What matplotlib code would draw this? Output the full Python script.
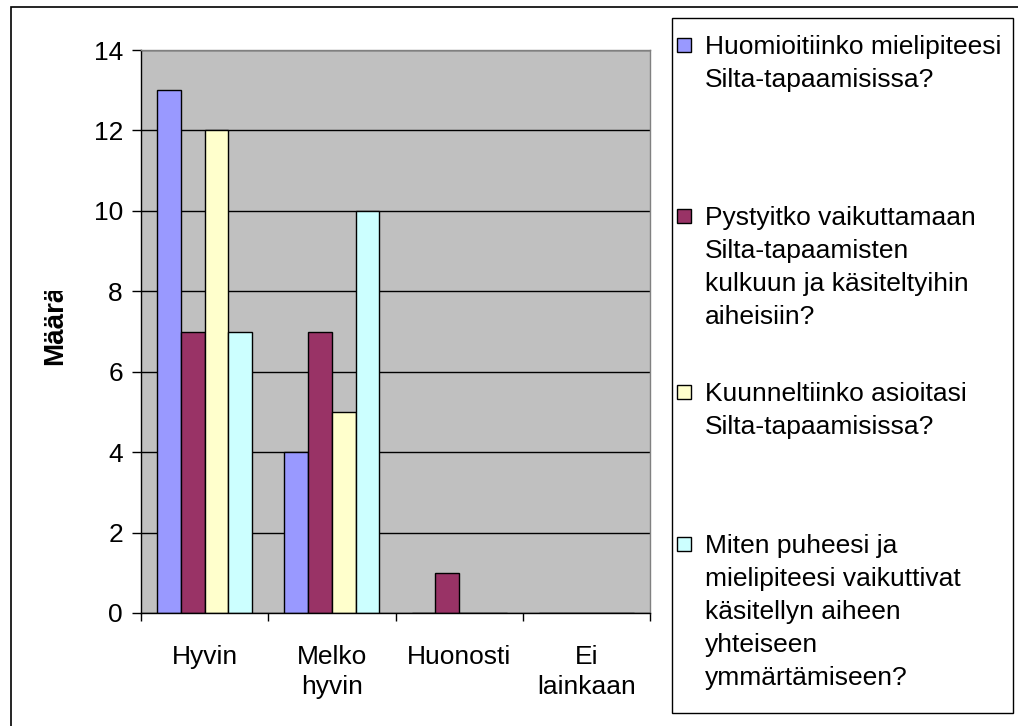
import matplotlib
matplotlib.use("Agg")
import matplotlib.pyplot as plt
from matplotlib.patches import Rectangle
from matplotlib.transforms import Bbox
import numpy as np

categories = ["Hyvin", "Melko\nhyvin", "Huonosti", "Ei\nlainkaan"]
series_labels = [
    "Huomioitiinko mielipiteesi\nSilta-tapaamisissa?",
    "Pystyitko vaikuttamaan\nSilta-tapaamisten\nkulkuun ja käsiteltyihin\naiheisiin?",
    "Kuunneltiinko asioitasi\nSilta-tapaamisissa?",
    "Miten puheesi ja\nmielipiteesi vaikuttivat\nkäsitellyn aiheen\nyhteiseen\nymmärtämiseen?",
]
s1 = [13, 4, 0, 0]
s2 = [7, 7, 1, 0]
s3 = [12, 5, 0, 0]
s4 = [7, 10, 0, 0]
series_values = [s1, s2, s3, s4]
colors = ["#9999FF", "#993366", "#FFFFCC", "#CCFFFF"]
yticks = [0, 2, 4, 6, 8, 10, 12, 14]
ylabel = "Määrä"

plt.rcParams['font.family'] = ['Liberation Sans', 'DejaVu Sans']
FS = 19
W, H = 1018, 726
fig = plt.figure(figsize=(W / 100, H / 100), dpi=100)
fig.patch.set_facecolor("white")

def fx(px):
    return px / W

def fy(py):
    return 1 - py / H

# outer frame
fig.patches.append(Rectangle((fx(11), -0.2), 1.5, fy(7) + 0.2, transform=fig.transFigure,
                             fill=False, edgecolor="black", linewidth=1.2))

ax = fig.add_axes([fx(141), fy(613), (650 - 141) / W, (613 - 50) / H])
ax.set_facecolor("#C0C0C0")
ax.set_axisbelow(True)

x = np.arange(len(categories))
w = 0.187
for i, vals in enumerate(series_values):
    ax.bar(x + (i - 1.5) * w, vals, width=w, color=colors[i], edgecolor="black",
           linewidth=1.0, zorder=2)

ax.set_xlim(-0.5, len(categories) - 0.5)
ax.set_ylim(0, 14)
ax.set_yticks(yticks)
ax.set_yticklabels([str(t) for t in yticks], fontsize=FS)
ax.yaxis.grid(True, color="black", linewidth=1.0)
ax.tick_params(axis="y", direction="out", length=6.5, width=1, pad=6.5, color="black")

ax.set_xticks(x)
ax.set_xticklabels(categories, fontsize=FS, linespacing=1.3, va="top")
ax.tick_params(axis="x", which="major", length=0, pad=23)
ax.set_xticks(np.arange(len(categories) + 1) - 0.5, minor=True)
ax.tick_params(axis="x", which="minor", direction="out", length=6, width=1, color="black")

for s in ["left", "bottom"]:
    ax.spines[s].set_color("black")
    ax.spines[s].set_linewidth(1.0)
for s in ["top", "right"]:
    ax.spines[s].set_color("#808080")
    ax.spines[s].set_linewidth(1.0)

# y label (clipped like the original)
t = fig.text(fx(55), fy(365), ylabel, rotation=90, ha="center", va="bottom",
             fontsize=20, fontweight="bold")
t.set_clip_box(Bbox([[0, 0], [W, H - 291]]))
t.set_clip_on(True)

# legend box
fig.patches.append(Rectangle((fx(672), fy(713)), (1013 - 672) / W, (713 - 18) / H,
                             transform=fig.transFigure, facecolor="white",
                             edgecolor="black", linewidth=1.0))
first_lines = [45, 216, 392, 544]
line_step = 33
for i, lab in enumerate(series_labels):
    y0 = first_lines[i]
    fig.patches.append(Rectangle((fx(677), fy(y0 + 7)), 14 / W, 14 / H,
                                 transform=fig.transFigure, facecolor=colors[i],
                                 edgecolor="black", linewidth=1.0))
    for j, line in enumerate(lab.split("\n")):
        fig.text(fx(705), fy(y0 + j * line_step + 9), line, ha="left", va="baseline",
                 fontsize=FS)

fig.savefig("out.png", dpi=100)
